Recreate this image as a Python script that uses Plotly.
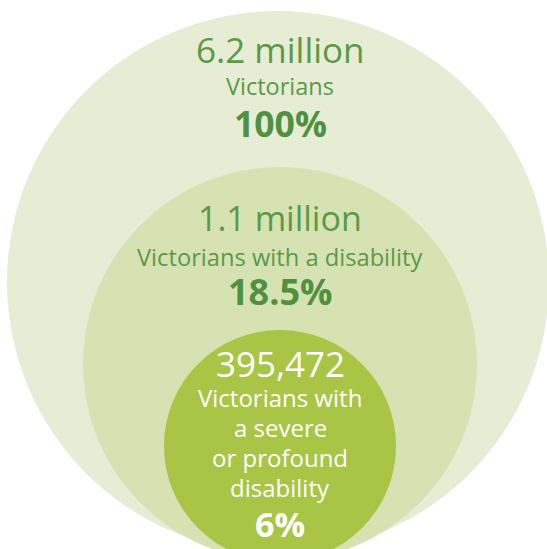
import plotly.graph_objects as go

# ---- data ----
counts = ["6.2 million", "1.1 million", "395,472"]
descriptions = [
    ["Victorians"],
    ["Victorians with a disability"],
    ["Victorians with", "a severe", "or profound", "disability"],
]
percents = ["100%", "18.5%", "6%"]

# ---- geometry / style (pixel coordinates) ----
W, H = 547, 549
circles = [  # cx, cy, r
    (278, 282, 271),
    (280, 364, 197),
    (280, 446, 116),
]
fills = ["#e7edd5", "#d7e2b2", "#a8c545"]
text_regular = ["#5a9a46", "#5a9a46", "#ffffff"]
text_bold = ["#4f913f", "#4f913f", "#ffffff"]

# baselines of each line per group
count_base = [63, 231, 377]
count_size = [35, 34, 35]
desc_base = [[95], [266], [407, 437, 467, 497]]
desc_size = [23.5, 23.7, 24]
pct_base = [137, 305, 537]
pct_size = [35.5, 36, 34]
text_x = 280

fig = go.Figure()
shapes = []
for (cx, cy, r), col in zip(circles, fills):
    shapes.append(dict(type="circle", xref="x", yref="y",
                       x0=cx - r, x1=cx + r, y0=cy - r, y1=cy + r,
                       fillcolor=col, line=dict(width=0), layer="below"))

ann = []
def add(text, base, size, color, bold=False):
    t = f"<b>{text}</b>" if bold else text
    ann.append(dict(x=text_x, y=base - 0.388 * size, xref="x", yref="y",
                    text=t, showarrow=False, xanchor="center", yanchor="middle",
                    font=dict(family="Open Sans", size=size, color=color)))

for i in range(3):
    add(counts[i], count_base[i], count_size[i], text_regular[i])
    for line, b in zip(descriptions[i], desc_base[i]):
        add(line, b, desc_size[i], text_regular[i])
    add(percents[i], pct_base[i], pct_size[i], text_bold[i], bold=True)

fig.add_trace(go.Scatter(x=[0, W], y=[0, H], mode="markers",
                         marker=dict(opacity=0), hoverinfo="skip", showlegend=False))
fig.update_layout(
    width=W, height=H, margin=dict(l=0, r=0, t=0, b=0),
    paper_bgcolor="white", plot_bgcolor="white",
    xaxis=dict(range=[0, W], visible=False, fixedrange=True),
    yaxis=dict(range=[H, 0], visible=False, fixedrange=True),
    shapes=shapes, annotations=ann, showlegend=False,
)
fig.write_html("out.html", config={"displayModeBar": False},
               post_script="document.body.style.margin='0';document.body.style.overflow='hidden';")
